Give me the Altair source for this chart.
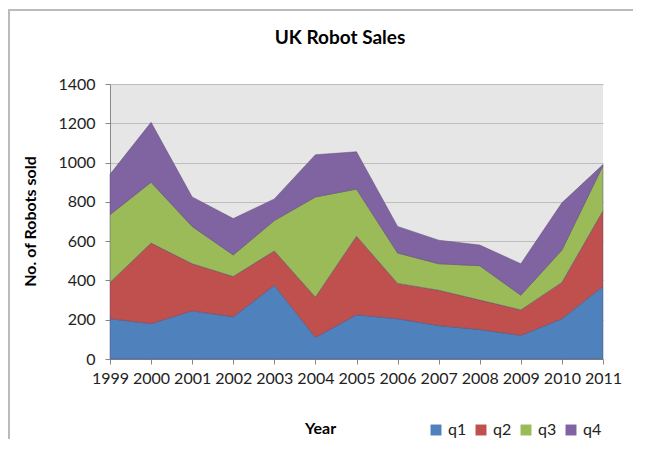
import altair as alt
import pandas as pd

years = [1999, 2000, 2001, 2002, 2003, 2004, 2005, 2006, 2007, 2008, 2009, 2010, 2011]
q1 = [205, 180, 245, 215, 375, 110, 225, 205, 170, 150, 120, 205, 370]
q2 = [185, 410, 240, 205, 175, 205, 400, 180, 180, 150, 130, 185, 385]
q3 = [345, 310, 190, 110, 155, 510, 240, 155, 135, 175, 75, 165, 230]
q4 = [205, 305, 150, 185, 110, 215, 190, 135, 120, 105, 160, 240, 5]
quarters = ["q1", "q2", "q3", "q4"]
colors = ["#4F81BD", "#C0504D", "#9BBB59", "#8064A2"]
title_text = "UK Robot Sales"

rows = []
for qi, (name, vals) in enumerate(zip(quarters, [q1, q2, q3, q4])):
    for y, v in zip(years, vals):
        rows.append({"Year": y, "Quarter": name, "Sales": v, "order": qi})
df = pd.DataFrame(rows)

FONT = "Lato"

area = alt.Chart(df).mark_area(
    stroke="#5a4a6e", strokeWidth=0.8, strokeOpacity=0.6, opacity=1
).encode(
    x=alt.X("Year:Q",
            scale=alt.Scale(domain=[1999, 2011], nice=False, zero=False),
            axis=alt.Axis(values=years, format="d", title="Year",
                          titleX=210, titleY=69, titleAnchor="middle",
                          titleBaseline="middle", titleFontSize=16,
                          titleFontWeight="bold", titleColor="#000000",
                          labelFontSize=16, labelColor="#222222",
                          labelPadding=6, tickSize=5, tickColor="#888888",
                          domainColor="#888888", grid=False, labelFlush=False)),
    y=alt.Y("Sales:Q", stack="zero",
            scale=alt.Scale(domain=[0, 1400], nice=False),
            axis=alt.Axis(values=[0, 200, 400, 600, 800, 1000, 1200, 1400],
                          format="d",
                          title="No. of Robots sold", titleX=-80, titleY=137,
                          titleAngle=-90, titleAnchor="middle",
                          titleBaseline="middle", titleFontSize=16,
                          titleFontWeight="bold", titleColor="#000000",
                          labelFontSize=16, labelColor="#222222",
                          labelPadding=10, tickSize=5, tickColor="#888888",
                          domainColor="#888888", gridColor="#bdbdbd",
                          gridWidth=1)),
    color=alt.Color("Quarter:N",
                    scale=alt.Scale(domain=quarters, range=colors),
                    legend=alt.Legend(title=None, orient="none",
                                      direction="horizontal",
                                      legendX=318, legendY=338,
                                      symbolType="square", symbolSize=120,
                                      symbolStrokeWidth=0,
                                      labelFontSize=16, labelColor="#222222",
                                      columnPadding=6, labelOffset=4)),
    order=alt.Order("order:Q", sort="ascending"),
)

one = pd.DataFrame({"a": [0]})

title = alt.Chart(one).mark_text(
    font=FONT, fontSize=19, fontWeight="bold", color="#000000",
    align="center", baseline="middle", clip=False
).encode(x=alt.value(230), y=alt.value(-46), text=alt.value(title_text))

frame = alt.Chart(one).mark_rect(
    fill="transparent", stroke="#bbbbbb", strokeWidth=2, clip=False
).encode(x=alt.value(-101), x2=alt.value(560),
         y=alt.value(-74), y2=alt.value(420))

chart = alt.layer(area, title, frame).properties(
    width=493, height=275,
    autosize=alt.AutoSizeParams(type="none"),
    padding={"left": 102, "top": 76, "right": 30, "bottom": 80},
).configure(
    font=FONT,
).configure_view(
    fill="#e6e6e6", stroke=None
)

chart.save("out.html", embed_options={"renderer": "svg", "actions": False})
